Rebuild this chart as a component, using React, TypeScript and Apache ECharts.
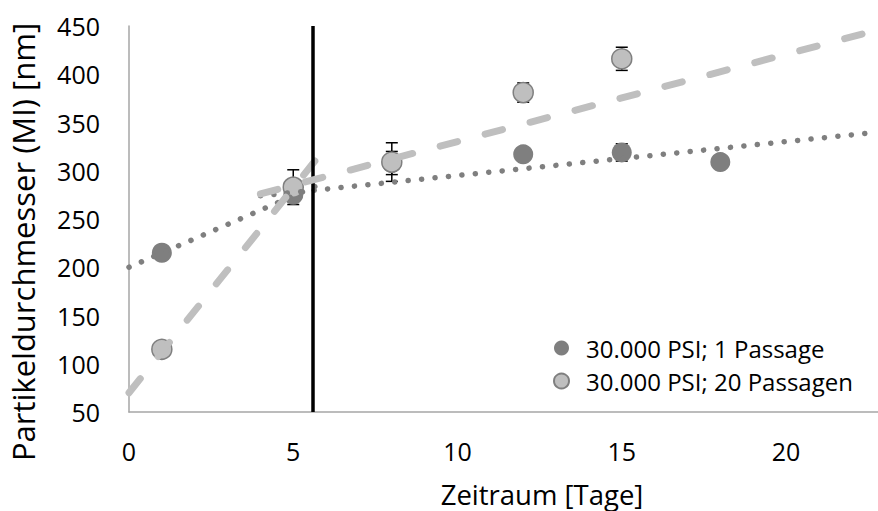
import React, { useEffect, useRef } from "react";
import * as echarts from "echarts";

// ---- data ----
const SERIES_1P_NAME = "30.000 PSI; 1 Passage";
const SERIES_20P_NAME = "30.000 PSI; 20 Passagen";

const DAYS_1P = [1, 5, 8, 12, 15, 18];
const SIZE_1P = [215, 275, 308, 317, 319, 309];
const ERR_1P = [0, 0, 12, 0, 9, 0];

const DAYS_20P = [1, 5, 8, 12, 15];
const SIZE_20P = [115, 283, 309, 381, 416];
const ERR_20P = [0, 18, 20, 10, 12];

// trend lines (start / end points)
const TREND_1P_A = [[0, 200], [5.75, 285]];
const TREND_1P_B = [[4, 274], [22.8, 340]];
const TREND_20P_A = [[0, 70], [5.75, 314]];
const TREND_20P_B = [[4, 276], [22.8, 446]];

const SPLIT_DAY = 5.6;

const X_MIN = 0;
const X_MAX = 22.8;
const X_STEP = 5;
const Y_MIN = 50;
const Y_MAX = 450;
const Y_STEP = 50;

const X_TITLE = "Zeitraum [Tage]";
const Y_TITLE = "Partikeldurchmesser (MI) [nm]";

const DARK = "#7f7f7f";
const LIGHT = "#bfbfbf";
const FONT = "'Open Sans', 'Noto Sans', sans-serif";

function zip3(a: number[], b: number[], c: number[]) {
  return a.map((v, i) => [v, b[i], c[i]]);
}
function zip2(a: number[], b: number[]) {
  return a.map((v, i) => [v, b[i]]);
}

function errorBarRender(params: any, api: any) {
  const x = api.value(0);
  const y = api.value(1);
  const e = api.value(2);
  if (!e) return { type: "group", children: [] };
  const top = api.coord([x, y + e]);
  const bot = api.coord([x, y - e]);
  const half = 6;
  const style = { stroke: "#000", lineWidth: 1.5 };
  return {
    type: "group",
    children: [
      { type: "line", shape: { x1: top[0], y1: top[1], x2: bot[0], y2: bot[1] }, style },
      { type: "line", shape: { x1: top[0] - half, y1: top[1], x2: top[0] + half, y2: top[1] }, style },
      { type: "line", shape: { x1: bot[0] - half, y1: bot[1], x2: bot[0] + half, y2: bot[1] }, style },
    ],
  };
}

export default function App() {
  const ref = useRef<HTMLDivElement>(null);

  useEffect(() => {
    const chart = echarts.init(ref.current as HTMLDivElement, null, { renderer: "svg" });

    const dotted = { color: DARK, width: 5.5, type: [0.1, 13.4], cap: "round" };
    const dashed = { color: LIGHT, width: 7, type: [18, 28.5], cap: "round" };

    const option: any = {
      animation: false,
      backgroundColor: "#ffffff",
      grid: { left: 129, right: 0, top: 26, bottom: 99, outerBoundsMode: "none", containLabel: false },
      xAxis: {
        type: "value",
        min: X_MIN,
        max: X_MAX,
        interval: X_STEP,
        axisLine: { show: true, lineStyle: { color: "#a6a6a6", width: 1.5 } },
        axisTick: { show: false },
        splitLine: { show: false },
        axisLabel: { showMaxLabel: false, color: "#000", fontSize: 25, fontFamily: FONT, margin: 26 },
      },
      yAxis: {
        type: "value",
        min: Y_MIN,
        max: Y_MAX,
        interval: Y_STEP,
        axisLine: { show: true, lineStyle: { color: "#a6a6a6", width: 1.5 } },
        axisTick: { show: false },
        splitLine: { show: false },
        axisLabel: { color: "#000", fontSize: 25, fontFamily: FONT, margin: 29 },
      },
      legend: {
        data: [SERIES_1P_NAME, SERIES_20P_NAME],
        orient: "vertical",
        left: 548,
        top: 331,
        itemWidth: 15,
        itemHeight: 15,
        itemGap: 9,
        icon: "circle",
        textStyle: { color: "#000", fontSize: 24, fontFamily: FONT, padding: [0, 0, 0, 12] },
      },
      graphic: [
        {
          type: "text",
          x: 542,
          y: 494,
          style: {
            text: X_TITLE,
            fill: "#000",
            font: `27.5px ${FONT}`,
            textAlign: "center",
            textVerticalAlign: "middle",
          },
        },
        {
          type: "text",
          x: 23,
          y: 242,
          rotation: Math.PI / 2,
          style: {
            text: Y_TITLE,
            fill: "#000",
            font: `31px ${FONT}`,
            textAlign: "center",
            textVerticalAlign: "middle",
          },
        },
      ],
      series: [
        {
          name: "err1",
          type: "custom",
          renderItem: errorBarRender,
          data: zip3(DAYS_1P, SIZE_1P, ERR_1P),
          encode: { x: 0, y: 1 },
          z: 1,
          silent: true,
        },
        {
          name: "err20",
          type: "custom",
          renderItem: errorBarRender,
          data: zip3(DAYS_20P, SIZE_20P, ERR_20P),
          encode: { x: 0, y: 1 },
          z: 1,
          silent: true,
        },
        {
          name: SERIES_1P_NAME,
          type: "scatter",
          symbol: "circle",
          symbolSize: 20,
          data: zip2(DAYS_1P, SIZE_1P),
          itemStyle: { color: DARK, opacity: 1 },
          z: 2,
        },
        {
          name: SERIES_20P_NAME,
          type: "scatter",
          symbol: "circle",
          symbolSize: 20,
          data: zip2(DAYS_20P, SIZE_20P),
          itemStyle: { color: LIGHT, borderColor: DARK, borderWidth: 1.5, opacity: 1 },
          z: 3,
        },
        { name: "t1a", type: "line", data: TREND_1P_A, symbol: "none", lineStyle: dotted, z: 4, silent: true },
        { name: "t1b", type: "line", data: TREND_1P_B, symbol: "none", lineStyle: dotted, z: 4, silent: true },
        { name: "t20a", type: "line", data: TREND_20P_A, symbol: "none", lineStyle: dashed, z: 4, silent: true },
        {
          name: "t20b",
          type: "line",
          data: TREND_20P_B,
          symbol: "none",
          lineStyle: dashed,
          z: 5,
          silent: true,
          markLine: {
            silent: true,
            symbol: "none",
            label: { show: false },
            lineStyle: { color: "#000", width: 3.5, type: "solid" },
            data: [{ xAxis: SPLIT_DAY }],
          },
        },
      ],
    };

    chart.setOption(option);
    return () => chart.dispose();
  }, []);

  return <div ref={ref} style={{ position: "fixed", left: 0, top: 0, width: 878, height: 511 }} />;
}
